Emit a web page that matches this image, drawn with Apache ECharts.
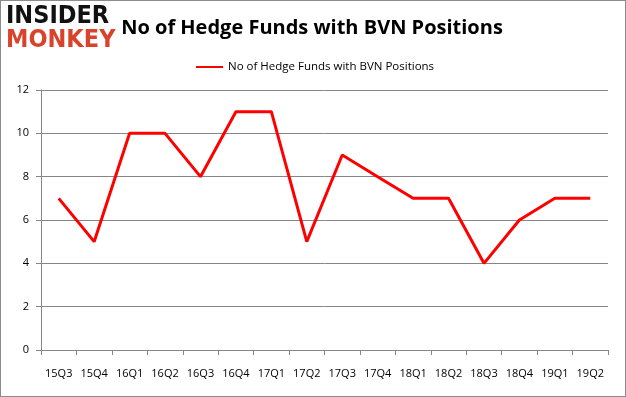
<!DOCTYPE html>
<html><head><meta charset="utf-8">
<script src="https://cdn.jsdelivr.net/npm/echarts@6/dist/echarts.min.js"></script>
<style>html,body{margin:0;padding:0;background:#fff}#c{width:626px;height:397px;box-sizing:border-box;border:1px solid #8c8c8c}</style>
</head><body><div id="c"></div>
<script>
const categories = ['15Q3','15Q4','16Q1','16Q2','16Q3','16Q4','17Q1','17Q2','17Q3','17Q4','18Q1','18Q2','18Q3','18Q4','19Q1','19Q2'];
const funds = [7,5,10,10,8,11,11,5,9,8,7,7,4,6,7,7];
const seriesName = 'No of Hedge Funds with BVN Positions';
const chart = echarts.init(document.getElementById('c'), null, {renderer:'canvas'});
chart.setOption({
  animation:false,
  title:{text:'No of Hedge Funds with BVN Positions', left:306, top:12, textAlign:'center',
    textStyle:{fontFamily:'Open Sans', fontWeight:'bold', fontSize:20, color:'#000'}},
  graphic:[
    {type:'text', left:5, top:3, style:{text:'INSIDER', fontFamily:'DejaVu Sans Condensed', fontWeight:'bold', fontSize:25, fill:'#111'}},
    {type:'text', left:5, top:27, style:{text:'MONKEY', fontFamily:'DejaVu Sans Condensed', fontWeight:'bold', fontSize:25, fill:'#d9432c'}}
  ],
  legend:{top:55, left:190, itemWidth:27, itemHeight:2, itemGap:4,
    textStyle:{fontFamily:'Open Sans', fontSize:11.5, color:'#000', padding:[0,0,0,0]},
    data:[{name:seriesName, icon:'rect'}]},
  grid:{left:40, right:17, top:89, bottom:46},
  xAxis:{type:'category', data:categories, boundaryGap:true,
    axisLine:{lineStyle:{color:'#868686'}},
    axisTick:{show:true, alignWithLabel:false, length:5, lineStyle:{color:'#868686'}},
    axisLabel:{fontFamily:'Open Sans', fontSize:11, color:'#000', margin:18, interval:0}},
  yAxis:{type:'value', min:0, max:12, interval:2,
    axisLine:{show:true, lineStyle:{color:'#868686'}},
    axisTick:{show:true, length:5, lineStyle:{color:'#868686'}},
    splitLine:{lineStyle:{color:'#868686'}},
    axisLabel:{fontFamily:'Open Sans', fontSize:11, color:'#000', margin:12}},
  series:[{name:seriesName, type:'line', data:funds, symbol:'none',
    lineStyle:{color:'#ff0000', width:3}, itemStyle:{color:'#ff0000'}}]
});
</script></body></html>
